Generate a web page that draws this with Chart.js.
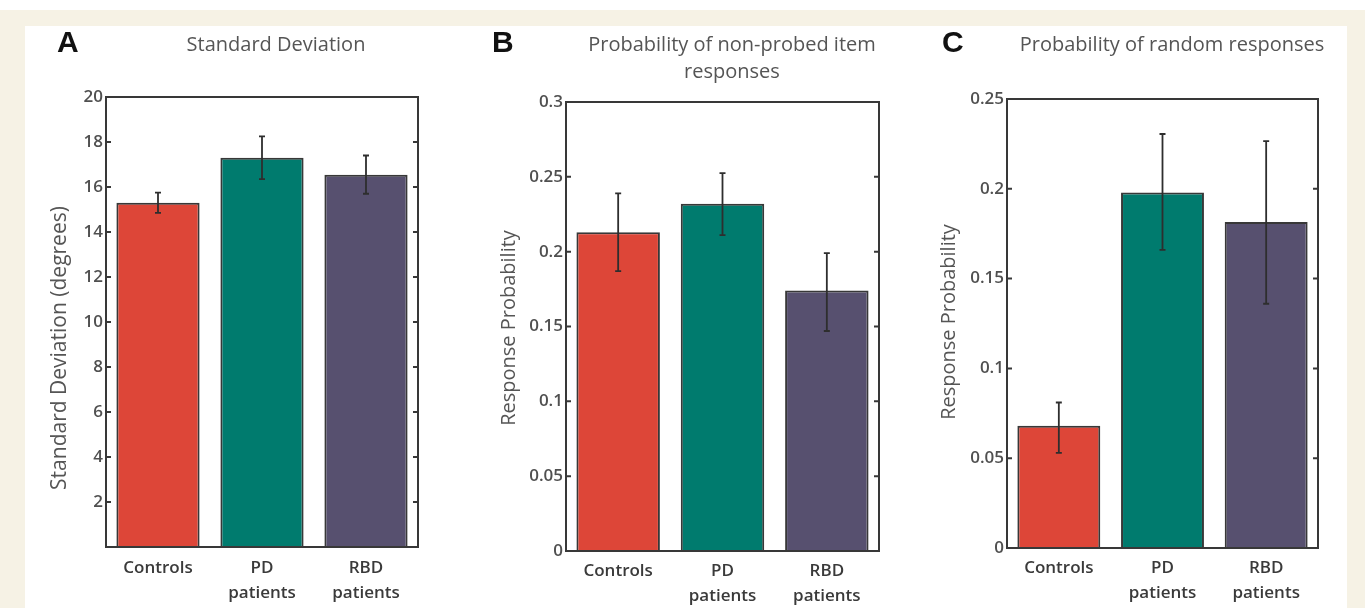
<!DOCTYPE html>
<html>
<head>
<meta charset="utf-8">
<script src="https://cdn.jsdelivr.net/npm/chart.js@4.4.1/dist/chart.umd.min.js"></script>
<style>
    html, body { margin: 0; padding: 0; }
    body { width: 1365px; height: 608px; background: #f6f2e5; position: relative; overflow: hidden; }
    #topStrip { position: absolute; left: 0; top: 0; width: 1365px; height: 10px; background: #ffffff; }
    #panel { position: absolute; left: 25px; top: 26px; width: 1322px; height: 582px; background: #ffffff; }
    .box { position: absolute; top: 0; height: 608px; }
</style>
</head>
<body>
<div id="topStrip"></div>
<div id="panel"></div>
<div class="box" style="left:0px;width:455px"><canvas id="chartA" width="455" height="608"></canvas></div>
<div class="box" style="left:455px;width:450px"><canvas id="chartB" width="450" height="608"></canvas></div>
<div class="box" style="left:905px;width:460px"><canvas id="chartC" width="460" height="608"></canvas></div>
<script>
// Groupes (abscisses)
const groups = [["Controls"], ["PD", "patients"], ["RBD", "patients"]];
const barColors = ["#dd4638", "#007b6e", "#57506f"];

// A - Standard Deviation
const sdMean = [15.3, 17.3, 16.55];
const sdLow = [14.85, 16.35, 15.7];
const sdHigh = [15.75, 18.25, 17.4];
const sdTicks = [0, 2, 4, 6, 8, 10, 12, 14, 16, 18, 20];

// B - non-probed item responses
const nonProbedMean = [0.213, 0.232, 0.174];
const nonProbedLow = [0.187, 0.211, 0.147];
const nonProbedHigh = [0.239, 0.2525, 0.199];
const nonProbedTicks = [0, 0.05, 0.1, 0.15, 0.2, 0.25, 0.3];

// C - random responses
const randomMean = [0.068, 0.198, 0.1815];
const randomLow = [0.053, 0.166, 0.136];
const randomHigh = [0.081, 0.2305, 0.2265];
const randomTicks = [0, 0.05, 0.1, 0.15, 0.2, 0.25];

const axisColor = "#383838";

// Boite MATLAB, ticks vers l'interieur, barres d'erreur, lettre et titres
const panelDecor = {
    id: "panelDecor",
    afterDatasetsDraw(chart, args, opts) {
        const ctx = chart.ctx;
        const area = chart.chartArea;
        const y = chart.scales.y;
        const meta = chart.getDatasetMeta(0);

        ctx.save();
        // barres d'erreur
        ctx.strokeStyle = "#2e2e2e";
        ctx.lineWidth = 1.8;
        meta.data.forEach((bar, i) => {
            const yLo = y.getPixelForValue(opts.low[i]);
            const yHi = y.getPixelForValue(opts.high[i]);
            ctx.beginPath();
            ctx.moveTo(bar.x, yLo);
            ctx.lineTo(bar.x, yHi);
            ctx.moveTo(bar.x - 3, yLo);
            ctx.lineTo(bar.x + 3, yLo);
            ctx.moveTo(bar.x - 3, yHi);
            ctx.lineTo(bar.x + 3, yHi);
            ctx.stroke();
        });

        // cadre
        ctx.strokeStyle = axisColor;
        ctx.lineWidth = 2;
        ctx.strokeRect(area.left, area.top, area.right - area.left, area.bottom - area.top);

        // petits ticks
        y.ticks.forEach(t => {
            const py = y.getPixelForValue(t.value);
            ctx.beginPath();
            ctx.moveTo(area.left, py);
            ctx.lineTo(area.left + 5, py);
            ctx.moveTo(area.right, py);
            ctx.lineTo(area.right - 5, py);
            ctx.stroke();
        });

        // lettre du panneau
        ctx.fillStyle = "#111111";
        ctx.font = "bold 30px 'Liberation Sans', Arial, sans-serif";
        ctx.textAlign = "left";
        ctx.textBaseline = "middle";
        ctx.fillText(opts.letter, opts.letterX, 44);

        // titre
        ctx.fillStyle = "#555555";
        ctx.font = "20px 'Open Sans', sans-serif";
        ctx.textAlign = "center";
        opts.title.forEach((line, i) => {
            ctx.fillText(line, opts.titleX, 45 + i * 27);
        });

        // titre de l'axe y
        ctx.translate(opts.yTitleX, opts.yTitleY);
        ctx.rotate(-Math.PI / 2);
        ctx.font = opts.yTitleSize + "px 'Open Sans', sans-serif";
        ctx.fillText(opts.yTitle, 0, 0);
        ctx.restore();
    }
};

function makeChart(canvasId, cfg) {
    const ctx = document.getElementById(canvasId).getContext("2d");
    const canvasW = ctx.canvas.width;
    const canvasH = ctx.canvas.height;

    return new Chart(ctx, {
        type: "bar",
        data: {
            labels: groups,
            datasets: [{
                data: cfg.values,
                backgroundColor: barColors,
                borderColor: axisColor,
                borderWidth: 2,
                barPercentage: 0.8,
                categoryPercentage: 1.0
            }]
        },
        options: {
            responsive: false,
            animation: false,
            events: [],
            layout: {
                padding: { left: 0, top: cfg.plot.t, right: canvasW - cfg.plot.r, bottom: 0 }
            },
            plugins: {
                legend: { display: false },
                tooltip: { enabled: false },
                panelDecor: {
                    letter: cfg.letter, letterX: cfg.letterX,
                    title: cfg.title, titleX: cfg.titleX,
                    yTitle: cfg.yTitle, yTitleX: cfg.yTitleX, yTitleY: cfg.yTitleY, yTitleSize: cfg.yTitleSize,
                    low: cfg.low, high: cfg.high
                }
            },
            scales: {
                x: {
                    grid: { display: false, drawTicks: false },
                    border: { display: false },
                    ticks: {
                        color: "#3a3a3a",
                        padding: cfg.xPad,
                        font: { family: "'Open Sans', sans-serif", size: 17, weight: "600", lineHeight: 1.45 }
                    },
                    afterFit: (scale) => { scale.height = canvasH - cfg.plot.b; }
                },
                y: {
                    min: cfg.ticks[0],
                    max: cfg.ticks[cfg.ticks.length - 1],
                    grid: { display: false, drawTicks: false },
                    border: { display: false },
                    afterBuildTicks: (scale) => { scale.ticks = cfg.ticks.map(v => ({ value: v })); },
                    ticks: {
                        color: "#505050",
                        padding: 3,
                        font: { family: "'Open Sans', sans-serif", size: 17, weight: "600" },
                        callback: (v) => (cfg.hideZero && v === 0) ? "" : String(v)
                    },
                    afterFit: (scale) => { scale.width = cfg.plot.l; }
                }
            }
        },
        plugins: [panelDecor]
    });
}

makeChart("chartA", {
    values: sdMean, low: sdLow, high: sdHigh, ticks: sdTicks, hideZero: true,
    letter: "A", letterX: 57, title: ["Standard Deviation"], titleX: 276,
    yTitle: "Standard Deviation (degrees)", yTitleX: 60, yTitleY: 348, yTitleSize: 21,
    plot: { l: 106, r: 418, t: 97, b: 547 }, xPad: 9
});

makeChart("chartB", {
    values: nonProbedMean, low: nonProbedLow, high: nonProbedHigh, ticks: nonProbedTicks, hideZero: false,
    letter: "B", letterX: 37, title: ["Probability of non-probed item", "responses"], titleX: 277,
    yTitle: "Response Probability", yTitleX: 54, yTitleY: 328, yTitleSize: 20,
    plot: { l: 111, r: 424, t: 102, b: 551 }, xPad: 8
});

makeChart("chartC", {
    values: randomMean, low: randomLow, high: randomHigh, ticks: randomTicks, hideZero: false,
    letter: "C", letterX: 37, title: ["Probability of random responses"], titleX: 267,
    yTitle: "Response Probability", yTitleX: 44, yTitleY: 322, yTitleSize: 20,
    plot: { l: 102, r: 413, t: 99, b: 548 }, xPad: 8
});
</script>
</body>
</html>
